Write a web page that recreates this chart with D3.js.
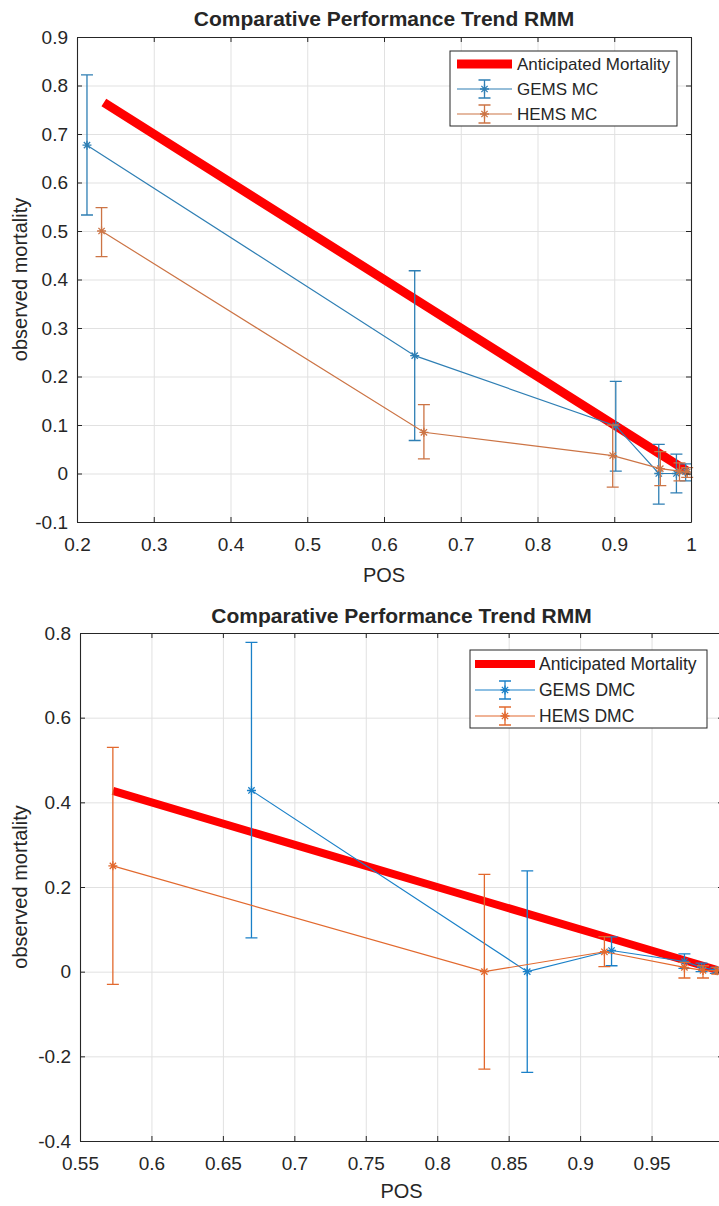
<!DOCTYPE html>
<html>
<head>
<meta charset="utf-8">
<script src="https://cdn.jsdelivr.net/npm/d3@7"></script>
<style>
  body { margin: 0; background: #fff; }
  text { font-family: "Liberation Sans", Arial, sans-serif; fill: #262626; }
</style>
</head>
<body>
<svg id="fig" width="719" height="1206"></svg>
<script>
/* ---- data: upper panel (MC) ---- */
const mc_x_ticks = [0.2, 0.3, 0.4, 0.5, 0.6, 0.7, 0.8, 0.9, 1.0];
const mc_x_labels = ["0.2", "0.3", "0.4", "0.5", "0.6", "0.7", "0.8", "0.9", "1"];
const mc_y_ticks = [-0.1, 0, 0.1, 0.2, 0.3, 0.4, 0.5, 0.6, 0.7, 0.8, 0.9];
const mc_y_labels = ["-0.1", "0", "0.1", "0.2", "0.3", "0.4", "0.5", "0.6", "0.7", "0.8", "0.9"];

const mc_ant_pos = [0.235, 0.652, 0.898, 0.960, 0.985, 0.995];
const mc_ant_mort = [0.765, 0.348, 0.102, 0.040, 0.015, 0.005];

const mc_gems_pos = [0.213, 0.640, 0.902, 0.958, 0.981, 0.993];
const mc_gems_obs = [0.677, 0.243, 0.098, 0.000, 0.000, 0.004];
const mc_gems_lo = [0.533, 0.068, 0.005, -0.063, -0.040, -0.015];
const mc_gems_hi = [0.822, 0.418, 0.190, 0.060, 0.040, 0.020];

const mc_hems_pos = [0.232, 0.652, 0.898, 0.960, 0.985, 0.995];
const mc_hems_obs = [0.500, 0.085, 0.037, 0.010, 0.005, 0.003];
const mc_hems_lo = [0.447, 0.030, -0.028, -0.025, -0.015, -0.008];
const mc_hems_hi = [0.548, 0.142, 0.100, 0.045, 0.022, 0.012];

/* ---- data: lower panel (DMC) ---- */
const dmc_x_ticks = [0.55, 0.6, 0.65, 0.7, 0.75, 0.8, 0.85, 0.9, 0.95, 1.0];
const dmc_x_labels = ["0.55", "0.6", "0.65", "0.7", "0.75", "0.8", "0.85", "0.9", "0.95", "1"];
const dmc_y_ticks = [-0.4, -0.2, 0, 0.2, 0.4, 0.6, 0.8];
const dmc_y_labels = ["-0.4", "-0.2", "0", "0.2", "0.4", "0.6", "0.8"];

const dmc_ant_pos = [0.573, 0.833, 0.917, 0.973, 0.986, 0.996];
const dmc_ant_mort = [0.427, 0.167, 0.083, 0.027, 0.014, 0.004];

const dmc_gems_pos = [0.670, 0.863, 0.922, 0.973, 0.985, 0.995];
const dmc_gems_obs = [0.428, 0.000, 0.050, 0.024, 0.010, 0.003];
const dmc_gems_lo = [0.080, -0.238, 0.014, 0.008, 0.000, -0.004];
const dmc_gems_hi = [0.778, 0.238, 0.082, 0.042, 0.020, 0.010];

const dmc_hems_pos = [0.573, 0.833, 0.917, 0.973, 0.986, 0.996];
const dmc_hems_obs = [0.250, 0.000, 0.047, 0.010, 0.003, 0.002];
const dmc_hems_lo = [-0.030, -0.230, 0.012, -0.015, -0.015, -0.006];
const dmc_hems_hi = [0.530, 0.230, 0.083, 0.022, 0.014, 0.010];

const svg = d3.select("#fig");

// MATLAB style '*' marker
const star = r => {
  const k = r * 0.7;
  return `M0,${-r}V${r}M${-r},0H${r}M${-k},${-k}L${k},${k}M${-k},${k}L${k},${-k}`;
};

function errSeries(g, x, y, pos, obs, lo, hi, color) {
  const pts = pos.map((p, i) => ({ p: p, o: obs[i], lo: lo[i], hi: hi[i] }));
  g.append("path")
    .datum(pts)
    .attr("fill", "none")
    .attr("stroke", color)
    .attr("stroke-width", 1.2)
    .attr("d", d3.line().x(d => x(d.p)).y(d => y(d.o)));
  const bars = g.append("g").attr("stroke", color).attr("stroke-width", 1.3).attr("fill", "none");
  bars.selectAll("path.eb")
    .data(pts)
    .join("path")
    .attr("class", "eb")
    .attr("d", d => {
      const cx = x(d.p), y1 = y(d.hi), y0 = y(d.lo);
      return `M${cx},${y0}V${y1}M${cx - 6},${y1}H${cx + 6}M${cx - 6},${y0}H${cx + 6}`;
    });
  bars.selectAll("path.mk")
    .data(pts)
    .join("path")
    .attr("class", "mk")
    .attr("transform", d => `translate(${x(d.p)},${y(d.o)})`)
    .attr("d", star(4.5));
}

function drawPanel(p) {
  const x = d3.scaleLinear().domain(p.xDomain).range([p.left, p.right]);
  const y = d3.scaleLinear().domain(p.yDomain).range([p.bottom, p.top]);
  const g = svg.append("g");
  const w = p.right - p.left, h = p.bottom - p.top;

  // grid
  g.append("g")
    .attr("transform", `translate(0,${p.bottom})`)
    .call(d3.axisBottom(x).tickValues(p.xTicks).tickSize(-h).tickFormat(""))
    .call(a => a.select(".domain").remove())
    .call(a => a.selectAll("line").attr("stroke", "#e1e1e1"));
  g.append("g")
    .attr("transform", `translate(${p.left},0)`)
    .call(d3.axisLeft(y).tickValues(p.yTicks).tickSize(-w).tickFormat(""))
    .call(a => a.select(".domain").remove())
    .call(a => a.selectAll("line").attr("stroke", "#e1e1e1"));

  // anticipated mortality
  g.append("path")
    .datum(d3.zip(p.antPos, p.antMort))
    .attr("fill", "none")
    .attr("stroke", "#ff0000")
    .attr("stroke-width", p.redWidth)
    .attr("d", d3.line().x(d => x(d[0])).y(d => y(d[1])));

  errSeries(g, x, y, p.gPos, p.gObs, p.gLo, p.gHi, p.blue);
  errSeries(g, x, y, p.hPos, p.hObs, p.hLo, p.hHi, p.orange);

  // axes box with inward ticks
  const style = a => {
    a.select(".domain").attr("stroke", "#262626").attr("stroke-width", 1.1);
    a.selectAll(".tick line").attr("stroke", "#262626");
    a.selectAll(".tick text").attr("font-size", p.tickFont).attr("fill", "#3a3a3a")
      .attr("font-family", "Liberation Sans, Arial, sans-serif");
  };
  g.append("g").attr("transform", `translate(0,${p.bottom})`)
    .call(d3.axisBottom(x).tickValues(p.xTicks).tickSizeInner(-5).tickSizeOuter(0).tickPadding(15.5)
      .tickFormat((d, i) => p.xLabels[i]))
    .call(style);
  g.append("g").attr("transform", `translate(0,${p.top})`)
    .call(d3.axisTop(x).tickValues(p.xTicks).tickSizeInner(-5).tickSizeOuter(0).tickFormat(""))
    .call(style);
  g.append("g").attr("transform", `translate(${p.left},0)`)
    .call(d3.axisLeft(y).tickValues(p.yTicks).tickSizeInner(-5).tickSizeOuter(0).tickPadding(9)
      .tickFormat((d, i) => p.yLabels[i]))
    .call(style);
  g.append("g").attr("transform", `translate(${p.right},0)`)
    .call(d3.axisRight(y).tickValues(p.yTicks).tickSizeInner(-5).tickSizeOuter(0).tickFormat(""))
    .call(style);

  // title and labels
  g.append("text")
    .attr("x", (p.left + p.right) / 2).attr("y", p.titleY)
    .attr("text-anchor", "middle").attr("font-weight", "bold").attr("font-size", p.titleFont)
    .attr("fill", "#000")
    .text("Comparative Performance Trend RMM");
  g.append("text")
    .attr("x", (p.left + p.right) / 2).attr("y", p.xLabelY)
    .attr("text-anchor", "middle").attr("font-size", p.labelFont)
    .text("POS");
  g.append("text")
    .attr("transform", `translate(${p.yLabelX},${(p.top + p.bottom) / 2}) rotate(-90)`)
    .attr("text-anchor", "middle").attr("font-size", p.labelFont)
    .text("observed mortality");

  // legend
  const L = p.legend;
  const lg = g.append("g").attr("transform", `translate(${L.x},${L.y})`);
  lg.append("rect").attr("width", L.w).attr("height", L.h)
    .attr("fill", "#fff").attr("stroke", "#262626").attr("stroke-width", 1);
  const rows = [
    { name: "Anticipated Mortality", color: "#ff0000", red: true },
    { name: p.names[0], color: p.blue },
    { name: p.names[1], color: p.orange }
  ];
  rows.forEach((r, i) => {
    const cy = L.row0 + i * L.dy;
    const x0 = L.sx0, x1 = L.sx1, cx = (x0 + x1) / 2;
    if (r.red) {
      lg.append("line").attr("x1", x0).attr("x2", x1).attr("y1", cy).attr("y2", cy)
        .attr("stroke", r.color).attr("stroke-width", p.redWidth);
    } else {
      lg.append("line").attr("x1", x0).attr("x2", x1).attr("y1", cy).attr("y2", cy)
        .attr("stroke", r.color).attr("stroke-width", 1.2);
      lg.append("path")
        .attr("d", `M${cx},${cy - 9}V${cy + 9}M${cx - 6},${cy - 9}H${cx + 6}M${cx - 6},${cy + 9}H${cx + 6}`)
        .attr("stroke", r.color).attr("stroke-width", 1.3).attr("fill", "none");
      lg.append("path").attr("transform", `translate(${cx},${cy})`).attr("d", star(4.5))
        .attr("stroke", r.color).attr("stroke-width", 1.3);
    }
    lg.append("text").attr("x", L.tx).attr("y", cy).attr("dy", "0.35em")
      .attr("font-size", L.font).attr("fill", "#000").text(r.name);
  });
}

drawPanel({
  left: 77, right: 691, top: 37, bottom: 522,
  xDomain: [0.2, 1.0], yDomain: [-0.1, 0.9],
  xTicks: mc_x_ticks, xLabels: mc_x_labels, yTicks: mc_y_ticks, yLabels: mc_y_labels,
  antPos: mc_ant_pos, antMort: mc_ant_mort,
  gPos: mc_gems_pos, gObs: mc_gems_obs, gLo: mc_gems_lo, gHi: mc_gems_hi,
  hPos: mc_hems_pos, hObs: mc_hems_obs, hLo: mc_hems_lo, hHi: mc_hems_hi,
  blue: "#2f7fb4", orange: "#cc7445", redWidth: 9,
  names: ["GEMS MC", "HEMS MC"],
  tickFont: 19, labelFont: 20, titleFont: 21,
  titleY: 26, xLabelY: 582, yLabelX: 27,
  legend: { x: 450, y: 51, w: 227, h: 75, row0: 13, dy: 25, sx0: 7, sx1: 62, tx: 67, font: 17 }
});

drawPanel({
  left: 80, right: 723, top: 633, bottom: 1141,
  xDomain: [0.55, 1.0], yDomain: [-0.4, 0.8],
  xTicks: dmc_x_ticks, xLabels: dmc_x_labels, yTicks: dmc_y_ticks, yLabels: dmc_y_labels,
  antPos: dmc_ant_pos, antMort: dmc_ant_mort,
  gPos: dmc_gems_pos, gObs: dmc_gems_obs, gLo: dmc_gems_lo, gHi: dmc_gems_hi,
  hPos: dmc_hems_pos, hObs: dmc_hems_obs, hLo: dmc_hems_lo, hHi: dmc_hems_hi,
  blue: "#1a80c8", orange: "#e2692e", redWidth: 8,
  names: ["GEMS DMC", "HEMS DMC"],
  tickFont: 19, labelFont: 20, titleFont: 21,
  titleY: 623, xLabelY: 1198, yLabelX: 27,
  legend: { x: 470, y: 650, w: 237, h: 78, row0: 14, dy: 26, sx0: 5, sx1: 65, tx: 69, font: 17.5 }
});
</script>
</body>
</html>
